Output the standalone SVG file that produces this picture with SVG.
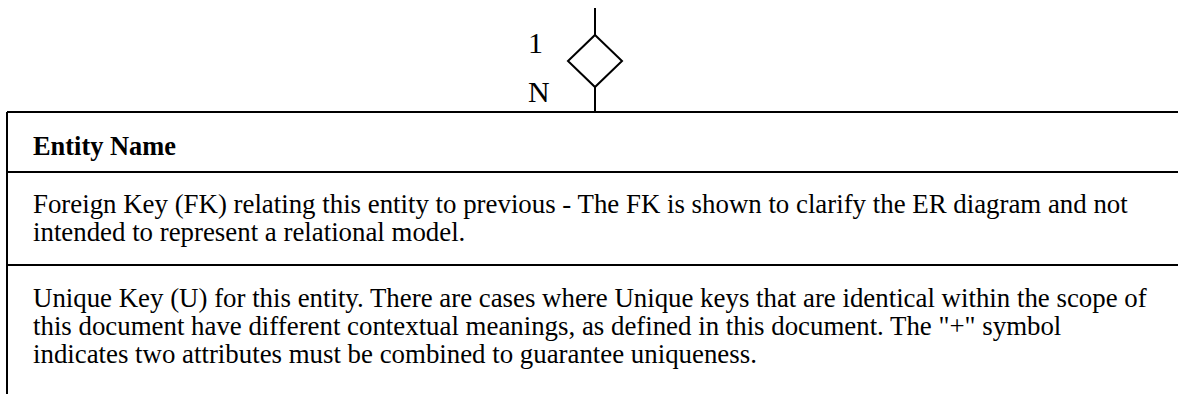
<svg xmlns="http://www.w3.org/2000/svg" width="1178" height="394" viewBox="0 0 1178 394">
<style>
.ln{stroke:#000;stroke-width:2;fill:none}
.t{font-family:"Liberation Serif","Times New Roman",serif;font-size:26.85px;fill:#000}
.b{font-weight:bold;font-size:26.4px}
.c{font-size:30px}
</style>
<rect width="1178" height="394" fill="#fff"/>
<g id="connectors">
<line class="ln" x1="595" y1="8" x2="595" y2="35"/>
<line class="ln" x1="595" y1="87" x2="595" y2="112"/>
</g>
<g id="relationship">
<polygon class="ln" points="595,35 622,61 595,87 568,61"/>
<text class="t c" x="528" y="53">1</text>
<text class="t c" x="528" y="102">N</text>
</g>
<g id="entity">
<line class="ln" x1="7" y1="112" x2="1178" y2="112"/>
<line class="ln" x1="7" y1="112" x2="7" y2="394"/>
<line class="ln" x1="7" y1="172" x2="1178" y2="172"/>
<line class="ln" x1="7" y1="265" x2="1178" y2="265"/>
<text class="t b" x="33" y="155">Entity Name</text>
<text class="t" x="33" y="213">Foreign Key (FK) relating this entity to previous - The FK is shown to clarify the ER diagram and not</text>
<text class="t" x="33" y="241">intended to represent a relational model.</text>
<text class="t" x="33" y="307">Unique Key (U) for this entity. There are cases where Unique keys that are identical within the scope of</text>
<text class="t" x="33" y="335">this document have different contextual meanings, as defined in this document. The "+" symbol</text>
<text class="t" x="33" y="363">indicates two attributes must be combined to guarantee uniqueness.</text>
</g>
</svg>
